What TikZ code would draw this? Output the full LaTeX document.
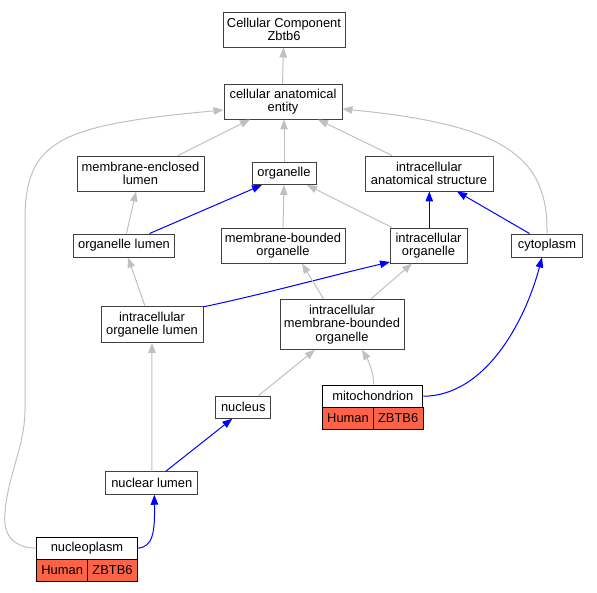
\documentclass[tikz,border=0pt]{standalone}
\usepackage{fontspec}
\setmainfont{Liberation Sans}
\usetikzlibrary{arrows.meta}
\definecolor{edgegray}{RGB}{192,192,192}
\definecolor{edgeblue}{RGB}{0,0,255}
\definecolor{tomatored}{RGB}{255,99,71}
\definecolor{boxline}{RGB}{64,64,64}
\begin{document}
\begin{tikzpicture}[x=1pt,y=-1pt,
  box/.style={draw=boxline, line width=0.95pt, fill=white, inner sep=0pt, align=center,
    font=\fontsize{12.9}{13.4}\selectfont},
  cell/.style={draw=black, line width=0.95pt, fill=tomatored, inner sep=0pt, align=center,
    minimum height=22pt, font=\fontsize{12.9}{13.4}\selectfont},
  gedge/.style={draw=edgegray, line width=1pt, -{Triangle[length=10pt,width=7.5pt]}},
  bedge/.style={draw=edgeblue, line width=1pt, -{Triangle[length=10pt,width=7.5pt]}}]
\useasboundingbox (0,0) rectangle (597,592);
% nodes
\node[box, minimum width=122pt, minimum height=35pt] (cc) at (284,29.5) {Cellular Component\\Zbtb6};
\node[box, minimum width=118pt, minimum height=35pt] (cae) at (283,101.5) {cellular anatomical\\entity};
\node[box, minimum width=127pt, minimum height=35pt] (mel) at (140.5,173.5) {membrane-enclosed\\lumen};
\node[box, minimum width=64pt, minimum height=22pt] (org) at (284,173.5) {organelle};
\node[box, minimum width=128pt, minimum height=35pt] (ias) at (429,173.5) {intracellular\\anatomical structure};
\node[box, minimum width=101pt, minimum height=23pt] (ol) at (124,245.5) {organelle lumen};
\node[box, minimum width=124pt, minimum height=35pt] (mbo) at (283,245.5) {membrane-bounded\\organelle};
\node[box, minimum width=77pt, minimum height=35pt] (io) at (428.5,245.5) {intracellular\\organelle};
\node[box, minimum width=71pt, minimum height=23pt] (cyto) at (547,245.5) {cytoplasm};
\node[box, minimum width=102pt, minimum height=36pt] (iol) at (152,324.5) {intracellular\\organelle lumen};
\node[box, minimum width=124pt, minimum height=50pt] (imbo) at (342,324.3) {intracellular\\membrane-bounded\\organelle};
\node[box, minimum width=55pt, minimum height=22pt] (nuc) at (243.3,407.2) {nucleus};
\node[box, draw=black, minimum width=100.3pt, minimum height=22.3pt] (mito) at (372.8,396.2) {mitochondrion};
\node[cell, minimum width=50.6pt] (mitoh) at (348,418.3) {Human};
\node[cell, minimum width=49.7pt] (mitoz) at (398.15,418.3) {ZBTB6};
\node[box, minimum width=92pt, minimum height=22.5pt] (nl) at (151.8,483) {nuclear lumen};
\node[box, draw=black, minimum width=100.6pt, minimum height=22.3pt] (np) at (87,548.2) {nucleoplasm};
\node[cell, minimum width=51pt] (nph) at (62.2,570.3) {Human};
\node[cell, minimum width=49.6pt] (npz) at (112.5,570.3) {ZBTB6};
% edges
\draw[gedge] ([xshift=-0.5pt]cae.north) -- ([xshift=-0.5pt]cc.south);
\draw[gedge] ([xshift=37.5pt]mel.north) -- ([xshift=-33pt]cae.south);
\draw[gedge] (org.north) -- ([xshift=1pt]cae.south);
\draw[gedge] ([xshift=-37pt]ias.north) -- ([xshift=35pt]cae.south);
\draw[gedge] (np.west) .. controls (10,547.5) and (3,532) .. (5,512)
   .. controls (8,475) and (25,445) .. (25,410) -- (25,220)
   .. controls (25,140) and (60,125) .. (cae.west |- 0,110);
\draw[gedge] (cyto.north) .. controls (548,160) and (510,125) .. (cae.east |- 0,109);
\draw[gedge] ([xshift=2.5pt]ol.north) -- ([xshift=-4.5pt]mel.south);
\draw[bedge] ([xshift=25.5pt]ol.north) -- ([xshift=-22pt]org.south);
\draw[gedge] (mbo.north) -- (org.south);
\draw[gedge] ([xshift=-36.5pt]io.north) -- ([xshift=23pt]org.south);
\draw[bedge] ([xshift=0.8pt]io.north) -- ([xshift=0.3pt]ias.south);
\draw[bedge] ([xshift=-17.5pt]cyto.north) -- ([xshift=28pt]ias.south);
\draw[gedge] ([xshift=-7pt]iol.north) -- ([xshift=4pt]ol.south);
\draw[bedge] ([yshift=-0.8pt]iol.north east) .. controls (260,295) and (330,276) .. ([xshift=-38.5pt,yshift=1.5pt]io.south);
\draw[gedge] ([xshift=-18.5pt]imbo.north) -- ([xshift=19pt]mbo.south);
\draw[gedge] ([xshift=29pt]imbo.north) -- ([xshift=-16.5pt]io.south);
\draw[gedge] (nl.north) -- (iol.south);
\draw[gedge] ([xshift=15pt]nuc.north) -- ([xshift=-27pt]imbo.south);
\draw[gedge] ([xshift=1pt]mito.north) .. controls (373.5,372) and (368,360) .. ([xshift=20pt]imbo.south);
\draw[bedge] ([xshift=14pt]nl.north) -- ([xshift=-11pt]nuc.south);
\draw[bedge] (mito.east) .. controls (485,396) and (525,322) .. ([xshift=-5pt]cyto.south);
\draw[bedge] (np.east) .. controls (153,547) and (155,532) .. ([xshift=2.5pt]nl.south);
\end{tikzpicture}
\end{document}
